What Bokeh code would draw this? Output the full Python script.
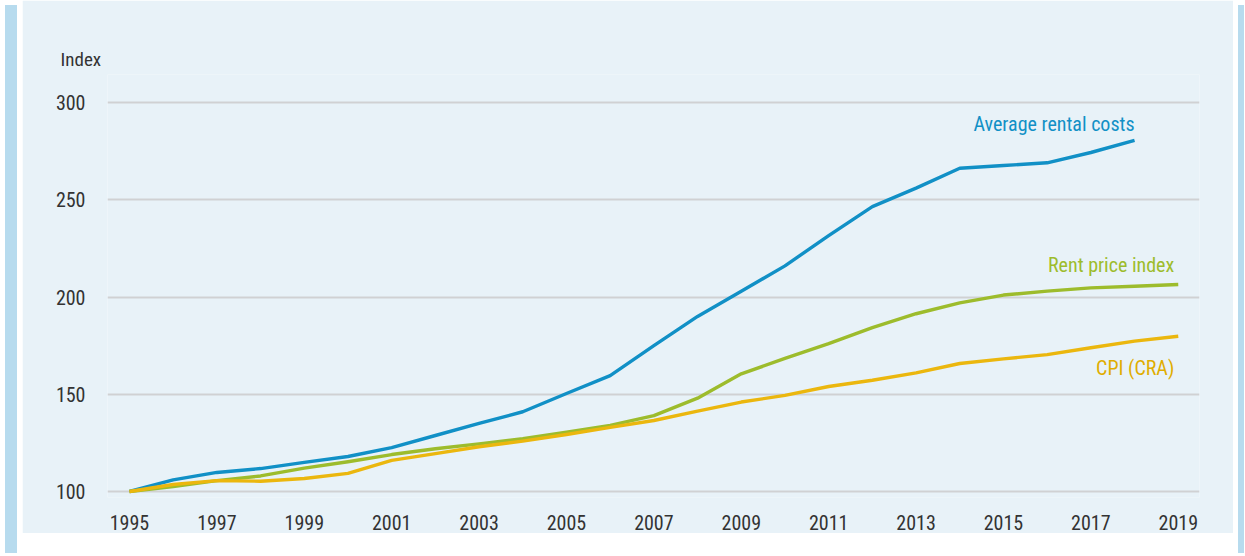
from bokeh.plotting import figure
from bokeh.models import Label, FixedTicker, Range1d, Div, Row, Title
from bokeh.embed import file_html
from bokeh.resources import INLINE

years = list(range(1995, 2020))
avg_rental = [100, 106, 109.8, 111.8, 115, 118, 122.6, 128.8, 135, 141, 150.4, 159.6,
              175, 190, 203, 216, 231.6, 246.5, 256, 266.2, 267.6, 269, 274.3, 280.5]
rent_index = [100, 102.5, 105.6, 108, 112, 115.3, 119, 122, 124.5, 127.2, 130.5, 134,
              139, 148, 160.5, 168.4, 176, 184.3, 191.4, 197, 201, 203, 204.7, 205.5, 206.4]
cpi = [100, 103.6, 105.6, 105.3, 106.7, 109.3, 116, 119.5, 123, 125.9, 129.3, 133,
       136.5, 141.3, 146, 149.4, 154, 157.2, 161, 165.8, 168.2, 170.4, 173.9, 177.3, 179.8]
y_ticks = [100, 150, 200, 250, 300]
x_ticks = list(range(1995, 2020, 2))

BLUE = "#1190c6"
GREEN = "#9dbc2c"
YELLOW = "#ebb70e"
PANEL = "#e8f2f8"
STRIP = "#b7dbee"
FONT = "Liberation Sans Narrow, Roboto Condensed, Liberation Sans, sans-serif"

p = figure(frame_width=1092, frame_height=423, output_backend="svg", toolbar_location=None,
           x_range=Range1d(1994.497, 2019.486), y_range=Range1d(96.92, 314.4),
           min_border_left=85, min_border_right=34, min_border_top=74, min_border_bottom=36,
           title=None)
p.background_fill_color = PANEL
p.border_fill_color = PANEL
p.outline_line_color = None

p.add_layout(Title(text="Index", align="left", offset=-47, standoff=8,
                   text_font=FONT, text_font_size="19px", text_font_style="normal",
                   text_color="#333333"), "above")

p.line(years[:len(avg_rental)], avg_rental, color=BLUE, line_width=3.4, line_join="round")
p.line(years[:len(rent_index)], rent_index, color=GREEN, line_width=3.4, line_join="round")
p.line(years[:len(cpi)], cpi, color=YELLOW, line_width=3.4, line_join="round")

p.xgrid.grid_line_color = None
p.ygrid.grid_line_color = "#d0d1d3"
p.ygrid.grid_line_width = 2.2
p.yaxis.ticker = FixedTicker(ticks=y_ticks)
p.xaxis.ticker = FixedTicker(ticks=x_ticks)
for ax in (p.xaxis, p.yaxis):
    ax.axis_line_color = None
    ax.major_tick_line_color = None
    ax.minor_tick_line_color = None
    ax.major_label_text_font = FONT
    ax.major_label_text_font_size = "20px"
    ax.major_label_text_color = "#333333"
p.yaxis.major_label_standoff = 16
p.xaxis.major_label_standoff = 11

p.add_layout(Label(x=years[len(avg_rental) - 1], y=avg_rental[-1], text="Average rental costs",
                   text_font=FONT, text_font_size="20px", text_color=BLUE,
                   text_align="right", text_baseline="alphabetic", y_offset=16))
p.add_layout(Label(x=years[len(rent_index) - 1], y=rent_index[-1], text="Rent price index",
                   text_font=FONT, text_font_size="20px", text_color=GREEN,
                   text_align="right", text_baseline="alphabetic", x_offset=-4, y_offset=20))
p.add_layout(Label(x=years[len(cpi) - 1], y=cpi[-1], text="CPI (CRA)",
                   text_font=FONT, text_font_size="20px", text_color="#e0ad00",
                   text_align="right", text_baseline="alphabetic", x_offset=-4, y_offset=-32))

left = Div(width=12, height=548, styles={"background-color": STRIP})
right = Div(width=6, height=548, styles={"background-color": STRIP})
layout = Row(left, p, right, spacing=0)

open("out.html", "w").write(file_html(layout, INLINE))
